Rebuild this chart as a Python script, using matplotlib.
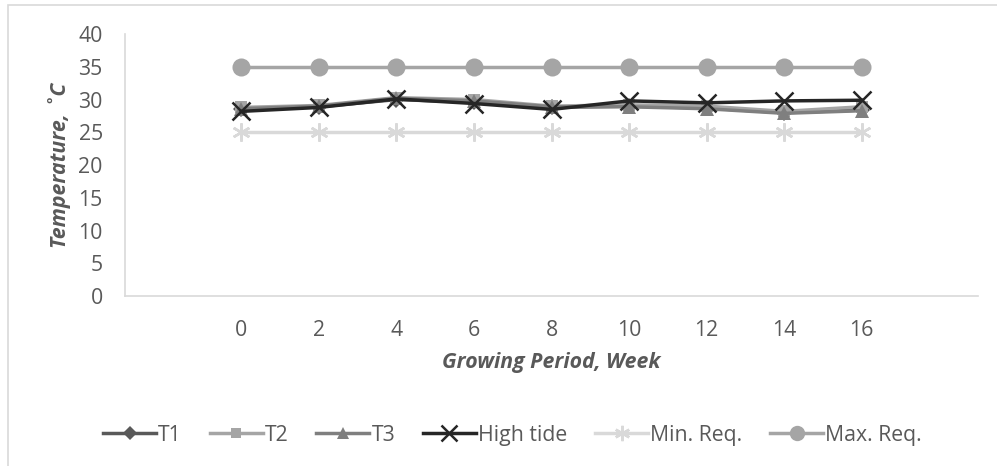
import numpy as np
import matplotlib
matplotlib.use("Agg")
from matplotlib import pyplot as plt
from matplotlib.patches import Rectangle

# weekly water temperature readings
weeks = ["0", "2", "4", "6", "8", "10", "12", "14", "16"]
t1 = [28.5, 28.9, 30.0, 29.6, 28.8, 29.0, 28.7, 28.0, 28.4]
t2 = [28.8, 29.1, 30.3, 30.0, 29.0, 29.2, 29.0, 28.2, 28.9]
t3 = [28.6, 29.0, 30.2, 29.8, 28.9, 28.9, 28.6, 27.9, 28.3]
high_tide = [28.2, 28.8, 30.1, 29.4, 28.5, 29.8, 29.5, 29.8, 29.9]
min_req = [25, 25, 25, 25, 25, 25, 25, 25, 25]
max_req = [35, 35, 35, 35, 35, 35, 35, 35, 35]

plt.rcParams['font.family'] = ['Open Sans', 'DejaVu Sans']
text_col = '#595959'
grid_col = '#d9d9d9'
fs = 15.3

fig = plt.figure(figsize=(9.97, 4.66), dpi=100)
ax = fig.add_axes([0.1254, 0.3648, 0.8556, 0.562])

x = np.arange(len(weeks))
series = [
    (t1, 'T1', '#595959', 'D', 8),
    (t2, 'T2', '#a5a5a5', 's', 9),
    (t3, 'T3', '#7f7f7f', '^', 10),
    (high_tide, 'High tide', '#262626', 'x', 13),
    (min_req, 'Min. Req.', '#d9d9d9', (6, 2, 0), 13),
    (max_req, 'Max. Req.', '#a5a5a5', 'o', 13),
]
for vals, name, col, mk, ms in series:
    kw = dict(markeredgewidth=1.8) if mk in ('x', (6, 2, 0)) else dict(markeredgewidth=0)
    ax.plot(x, vals, color=col, lw=2.5, marker=mk, markersize=ms,
            markerfacecolor=col, markeredgecolor=col, label=name, **kw)

ax.set_xlim(-1.5, len(weeks) + 0.5)
ax.set_ylim(0, 40)
ax.set_yticks(np.arange(0, 41, 5))
ax.set_xticks(x)
ax.set_xticklabels(weeks)
ax.tick_params(length=0, labelsize=fs, labelcolor=text_col, pad=17)
ax.tick_params(axis='y', pad=16)
for s in ('top', 'right'):
    ax.spines[s].set_visible(False)
for s in ('left', 'bottom'):
    ax.spines[s].set_color(grid_col)
    ax.spines[s].set_linewidth(1.2)

ax.set_ylabel('Temperature, ˚C', fontsize=fs, fontweight='bold', fontstyle='italic',
              color=text_col, labelpad=5)
ax.set_xlabel('Growing Period, Week', fontsize=fs, fontweight='bold', fontstyle='italic',
              color=text_col, labelpad=8)

fig.legend(*ax.get_legend_handles_labels(), loc='center', bbox_to_anchor=(0.514, 0.066),
           ncol=6, frameon=False, fontsize=fs, labelcolor=text_col, markerscale=0.85,
           handlelength=2.5, handletextpad=0.1, columnspacing=1.3)

# chart area border
fig.patches.append(Rectangle((8 / 997, -0.01), 1.0, 1 - 5 / 466 + 0.01, transform=fig.transFigure,
                             fill=False, edgecolor=grid_col, lw=1.2))

fig.savefig('out.png', dpi=100)
